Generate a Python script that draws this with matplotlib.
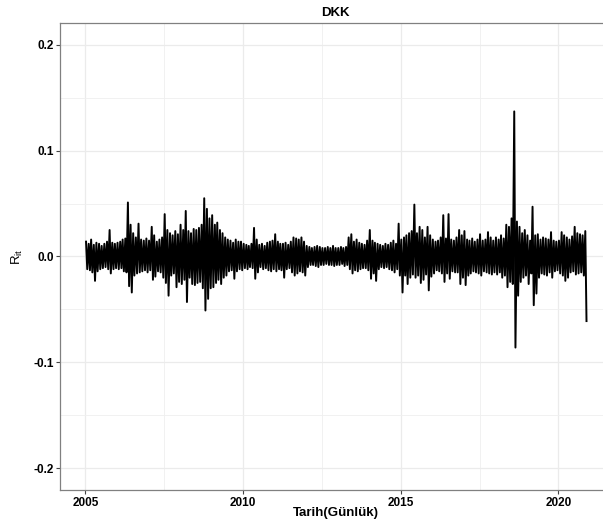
import pandas as pd
import matplotlib
matplotlib.use("Agg")
import matplotlib.pyplot as plt
import matplotlib.dates as mdates
from matplotlib.ticker import MultipleLocator, FixedLocator

plt.rcParams['font.family'] = ['Liberation Sans', 'DejaVu Sans']
plt.rcParams['axes.unicode_minus'] = False
plt.rcParams['mathtext.fontset'] = 'custom'
plt.rcParams['mathtext.rm'] = 'Liberation Sans'
plt.rcParams['mathtext.it'] = 'Liberation Sans:italic'

# monthly extremes of the daily return (Jan 2005 .. Nov 2020)
first_month = "2005-01"
monthly_high = [
    0.014, 0.012, 0.016, 0.011, 0.013, 0.012, 0.010, 0.012, 0.014, 0.025, 0.013, 0.012,  # 2005
    0.013, 0.014, 0.016, 0.017, 0.051, 0.030, 0.022, 0.018, 0.031, 0.016, 0.015, 0.017,  # 2006
    0.015, 0.028, 0.020, 0.014, 0.016, 0.018, 0.040, 0.025, 0.022, 0.020, 0.024, 0.021,  # 2007
    0.030, 0.025, 0.043, 0.024, 0.022, 0.026, 0.025, 0.027, 0.030, 0.055, 0.045, 0.036,  # 2008
    0.039, 0.030, 0.032, 0.025, 0.022, 0.018, 0.016, 0.015, 0.013, 0.016, 0.014, 0.014,  # 2009
    0.012, 0.011, 0.010, 0.012, 0.027, 0.016, 0.011, 0.012, 0.010, 0.013, 0.014, 0.015,  # 2010
    0.021, 0.014, 0.012, 0.012, 0.013, 0.011, 0.014, 0.018, 0.017, 0.016, 0.018, 0.014,  # 2011
    0.010, 0.009, 0.008, 0.009, 0.010, 0.009, 0.008, 0.008, 0.009, 0.008, 0.010, 0.008,  # 2012
    0.008, 0.009, 0.008, 0.009, 0.018, 0.021, 0.014, 0.016, 0.013, 0.012, 0.011, 0.015,  # 2013
    0.025, 0.015, 0.013, 0.012, 0.011, 0.010, 0.012, 0.011, 0.013, 0.015, 0.012, 0.031,  # 2014
    0.016, 0.018, 0.020, 0.022, 0.024, 0.049, 0.022, 0.028, 0.025, 0.018, 0.028, 0.020,  # 2015
    0.016, 0.014, 0.015, 0.018, 0.039, 0.017, 0.040, 0.016, 0.015, 0.018, 0.025, 0.020,  # 2016
    0.024, 0.016, 0.015, 0.017, 0.014, 0.016, 0.021, 0.015, 0.016, 0.023, 0.018, 0.015,  # 2017
    0.018, 0.016, 0.020, 0.017, 0.030, 0.028, 0.036, 0.137, 0.033, 0.028, 0.022, 0.025,  # 2018
    0.020, 0.015, 0.047, 0.020, 0.021, 0.016, 0.018, 0.017, 0.016, 0.023, 0.015, 0.014,  # 2019
    0.015, 0.023, 0.020, 0.018, 0.016, 0.019, 0.028, 0.022, 0.021, 0.020, 0.024,         # 2020
]
monthly_low = [
    -0.012, -0.013, -0.015, -0.023, -0.014, -0.012, -0.011, -0.010, -0.012, -0.016, -0.012, -0.011,
    -0.012, -0.011, -0.014, -0.015, -0.028, -0.034, -0.018, -0.016, -0.015, -0.014, -0.013, -0.015,
    -0.013, -0.022, -0.019, -0.014, -0.015, -0.020, -0.025, -0.037, -0.018, -0.016, -0.029, -0.024,
    -0.026, -0.022, -0.043, -0.020, -0.026, -0.027, -0.025, -0.024, -0.030, -0.051, -0.040, -0.030,
    -0.029, -0.025, -0.022, -0.026, -0.020, -0.018, -0.014, -0.013, -0.021, -0.014, -0.012, -0.013,
    -0.011, -0.012, -0.010, -0.011, -0.021, -0.015, -0.010, -0.012, -0.011, -0.013, -0.014, -0.012,
    -0.014, -0.012, -0.013, -0.020, -0.012, -0.011, -0.015, -0.018, -0.016, -0.014, -0.015, -0.018,
    -0.010, -0.008, -0.008, -0.009, -0.010, -0.008, -0.008, -0.007, -0.008, -0.008, -0.009, -0.008,
    -0.008, -0.007, -0.009, -0.008, -0.012, -0.016, -0.013, -0.014, -0.012, -0.011, -0.011, -0.013,
    -0.021, -0.016, -0.023, -0.012, -0.010, -0.011, -0.010, -0.012, -0.013, -0.015, -0.012, -0.018,
    -0.034, -0.018, -0.026, -0.020, -0.017, -0.020, -0.018, -0.025, -0.022, -0.017, -0.032, -0.019,
    -0.016, -0.013, -0.014, -0.016, -0.024, -0.016, -0.021, -0.014, -0.015, -0.015, -0.026, -0.020,
    -0.027, -0.018, -0.016, -0.014, -0.015, -0.016, -0.018, -0.014, -0.015, -0.016, -0.017, -0.015,
    -0.017, -0.015, -0.020, -0.018, -0.029, -0.024, -0.026, -0.086, -0.037, -0.024, -0.020, -0.018,
    -0.026, -0.016, -0.046, -0.035, -0.020, -0.016, -0.017, -0.018, -0.015, -0.020, -0.014, -0.013,
    -0.016, -0.018, -0.023, -0.020, -0.015, -0.014, -0.017, -0.016, -0.015, -0.018, -0.061,
]

months = pd.date_range(first_month, periods=len(monthly_high), freq="MS")
dates, values = [], []
for m, hi, lo in zip(months, monthly_high, monthly_low):
    dates += [m + pd.Timedelta(days=7), m + pd.Timedelta(days=21)]
    values += [hi, lo]

fig = plt.figure(figsize=(6.03, 5.25), dpi=100)
# panel runs past the right edge of the image, as in the original
ax = fig.add_axes([0.1003, 0.0667, 0.913, 0.8895])

ax.plot(dates, values, color='black', lw=1.4)

ax.set_xlim(pd.Timestamp("2004-03-18"), pd.Timestamp("2021-09-02"))
ax.set_ylim(-0.2205, 0.2205)

ax.xaxis.set_major_locator(mdates.YearLocator(5))
ax.xaxis.set_major_formatter(mdates.DateFormatter('%Y'))
mid = pd.to_datetime(["2002-07-02", "2007-07-02", "2012-07-01", "2017-07-02", "2022-07-02"])
ax.xaxis.set_minor_locator(FixedLocator(mdates.date2num(mid)))
ax.yaxis.set_major_locator(MultipleLocator(0.1))
ax.yaxis.set_minor_locator(MultipleLocator(0.05))
ax.yaxis.set_major_formatter(lambda v, p: f"{v:.1f}")

ax.set_axisbelow(True)
ax.grid(which='major', color='#EBEBEB', lw=0.9)
ax.grid(which='minor', color='#EFEFEF', lw=0.6)

ax.tick_params(which='major', length=3, width=0.8, color='#444444', pad=2,
               labelsize=8.5, labelcolor='black')
ax.tick_params(which='minor', length=0)
for lab in ax.get_xticklabels() + ax.get_yticklabels():
    lab.set_fontweight('bold')

for side in ['left', 'bottom', 'top']:
    ax.spines[side].set_color('#808080')
    ax.spines[side].set_linewidth(0.9)
ax.spines['right'].set_visible(False)

ax.set_title('DKK', fontweight='bold', fontsize=9.5, pad=5)
ax.set_xlabel('Tarih(Günlük)', fontweight='bold', fontsize=9.5)
ax.xaxis.set_label_coords(0.5, -0.036)
ax.set_ylabel(r'$\mathrm{R}_{\mathrm{it}}$', fontsize=9.5)
ax.yaxis.set_label_coords(-0.064, 0.5)

fig.savefig('out.png', dpi=100)
